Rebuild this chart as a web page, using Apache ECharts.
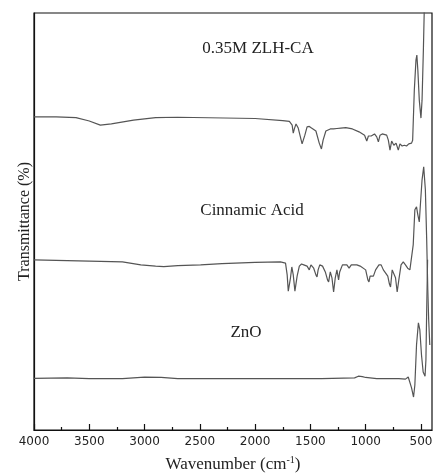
<!DOCTYPE html>
<html>
<head>
<meta charset="utf-8">
<style>
html, body { margin: 0; padding: 0; background: #fff; }
#main { width: 433px; height: 475px; }
</style>
<script src="https://cdn.jsdelivr.net/npm/echarts@6/dist/echarts.min.js"></script>
</head>
<body>
<div id="main"></div>
<script>
// tick labels
var majorTicks = [4000, 3500, 3000, 2500, 2000, 1500, 1000, 500];
var minorTicks = [3750, 3250, 2750, 2250, 1750, 1250, 750];

// 0.35M ZLH-CA
var wnZLH = [4000, 3800, 3620, 3500, 3400, 3300, 3100, 2900, 2700, 2000, 1750, 1690, 1665, 1655, 1645, 1630, 1610, 1575, 1550, 1530,
  1510, 1490, 1450, 1420, 1400, 1385, 1360, 1320, 1290, 1260, 1245, 1225, 1180, 1120, 1060, 1010, 990, 975, 950, 920,
  900, 885, 870, 850, 810, 795, 780, 765, 745, 725, 705, 690, 670, 650, 630, 610, 585, 575, 560, 545,
  537, 528, 515, 500, 490, 478, 470, 465];
var tZLH = [75.1, 75.1, 74.9, 74.1, 73.1, 73.4, 74.3, 74.9, 75.0, 74.7, 74.2, 74.0, 73.1, 71.2, 72.2, 73.4, 72.4, 68.6, 70.7, 72.7,
  72.8, 72.4, 71.7, 68.8, 67.4, 69.5, 71.7, 72.2, 72.2, 72.3, 71.9, 72.4, 72.5, 72.2, 71.5, 70.7, 69.3, 70.5, 70.5, 71.0,
  70.3, 69.1, 70.7, 71.0, 70.7, 69.5, 67.1, 69.3, 68.3, 68.8, 67.1, 68.6, 68.1, 68.3, 68.1, 68.6, 68.8, 69.5, 81.5, 88.7,
  89.9, 86.3, 79.1, 74.8, 79.1, 91.1, 100.7, 110];

// Cinnamic Acid
var wnCA = [4000, 3500, 3200, 3034, 2900, 2826, 2700, 2493, 2300, 2000, 1771, 1725, 1710, 1700, 1690, 1680, 1668, 1655, 1640, 1630,
  1620, 1600, 1580, 1560, 1530, 1510, 1495, 1470, 1450, 1440, 1430, 1415, 1390, 1365, 1345, 1335, 1320, 1305, 1290, 1275,
  1260, 1245, 1235, 1210, 1170, 1150, 1130, 1080, 1050, 1000, 980, 970, 960, 945, 930, 910, 880, 860, 840, 800,
  785, 775, 760, 745, 730, 715, 700, 680, 660, 640, 620, 600, 585, 570, 555, 540, 528, 515, 505, 490,
  475, 468, 460, 448, 438, 430, 420];
var tCA = [40.8, 40.5, 40.3, 39.6, 39.3, 39.2, 39.4, 39.6, 39.9, 40.2, 40.3, 40.0, 37.2, 33.3, 33.1, 36.5, 39.1, 37.2, 33.3, 33.1,
  36.9, 39.3, 39.8, 39.6, 39.3, 38.4, 39.6, 38.8, 37.2, 36.7, 38.4, 39.6, 39.3, 37.9, 36.0, 35.5, 37.9, 36.5, 33.1, 36.5,
  38.4, 36.0, 37.9, 39.6, 39.6, 38.8, 39.6, 39.6, 39.3, 38.4, 36.0, 35.5, 36.9, 36.5, 36.9, 38.4, 39.6, 39.6, 38.4, 36.9,
  35.0, 34.3, 38.4, 38.4, 36.5, 33.1, 36.0, 39.6, 40.3, 39.6, 38.8, 38.4, 38.8, 44.4, 52.8, 53.5, 51.6, 49.9, 54.0, 60.0,
  63.1, 63.1, 57.6, 45.6, 33.6, 26.4, 20.4];

// ZnO
var wnZnO = [4000, 3700, 3500, 3200, 3000, 2850, 2700, 2000, 1400, 1100, 1066, 1030, 1000, 900, 700, 640, 615, 600, 585, 567,
  555, 540, 523, 510, 495, 480, 463, 455, 448, 440];
var tZnO = [12.4, 12.5, 12.3, 12.3, 12.7, 12.6, 12.3, 12.3, 12.3, 12.5, 12.9, 12.8, 12.6, 12.3, 12.3, 12.2, 12.7, 12.5, 10.1, 7.9,
  10.8, 20.4, 25.7, 24.0, 18.0, 13.9, 12.9, 16.8, 28.8, 40.8];

function pairs(xs, ys) {
  return xs.map(function (x, i) { return [x, ys[i]]; });
}

function trace(name, xs, ys) {
  return {
    name: name,
    type: 'line',
    showSymbol: false,
    silent: true,
    clip: true,
    lineStyle: { color: '#555', width: 1.2 },
    data: pairs(xs, ys)
  };
}

var serif = '"Liberation Serif", "Times New Roman", serif';
var myChart = echarts.init(document.getElementById('main'));
myChart.setOption({
  animation: false,
  grid: {
    left: 34, right: 1, top: 13, bottom: 45,
    containLabel: false,
    outerBoundsMode: 'none',
    show: true, borderColor: '#111', borderWidth: 1.2
  },
  xAxis: [{
    type: 'value',
    min: 400,
    max: 4000,
    inverse: true,
    position: 'bottom',
    splitLine: { show: false },
    axisLine: { show: true, lineStyle: { color: '#111', width: 1.2 } },
    axisTick: {
      show: true, inside: true, length: 6, customValues: majorTicks,
      lineStyle: { color: '#111', width: 1.2 }
    },
    axisLabel: {
      customValues: majorTicks, margin: 6,
      formatter: function (v) { return String(v); },
      fontFamily: '"DejaVu Sans", sans-serif', fontSize: 12, color: '#222'
    },
    name: 'Wavenumber (cm{sup|-1})',
    nameLocation: 'middle',
    nameGap: 25,
    nameTextStyle: {
      fontFamily: serif, fontSize: 17, color: '#222',
      rich: { sup: { fontFamily: serif, fontSize: 10, color: '#222', padding: [0, 0, 9, 0] } }
    }
  }, {
    type: 'value',
    min: 400,
    max: 4000,
    inverse: true,
    position: 'bottom',
    splitLine: { show: false },
    axisLine: { show: false },
    axisLabel: { show: false },
    axisTick: {
      show: true, inside: true, length: 3, customValues: minorTicks,
      lineStyle: { color: '#111', width: 1.2 }
    }
  }],
  yAxis: {
    type: 'value',
    min: 0,
    max: 100,
    splitLine: { show: false },
    axisLine: { show: true, lineStyle: { color: '#111', width: 1.2 } },
    axisTick: { show: false },
    axisLabel: { show: false },
    name: 'Transmittance (%)',
    nameLocation: 'middle',
    nameGap: 1,
    nameTextStyle: { fontFamily: serif, fontSize: 16, color: '#222' }
  },
  graphic: [
    { type: 'text', x: 258, y: 49, style: { text: '0.35M ZLH-CA', font: '17px ' + serif, fill: '#222', textAlign: 'center', textVerticalAlign: 'middle' } },
    { type: 'text', x: 252, y: 211, style: { text: 'Cinnamic Acid', font: '17px ' + serif, fill: '#222', textAlign: 'center', textVerticalAlign: 'middle' } },
    { type: 'text', x: 246, y: 333, style: { text: 'ZnO', font: '17px ' + serif, fill: '#222', textAlign: 'center', textVerticalAlign: 'middle' } }
  ],
  series: [
    trace('0.35M ZLH-CA', wnZLH, tZLH),
    trace('Cinnamic Acid', wnCA, tCA),
    trace('ZnO', wnZnO, tZnO)
  ]
});
</script>
</body>
</html>
